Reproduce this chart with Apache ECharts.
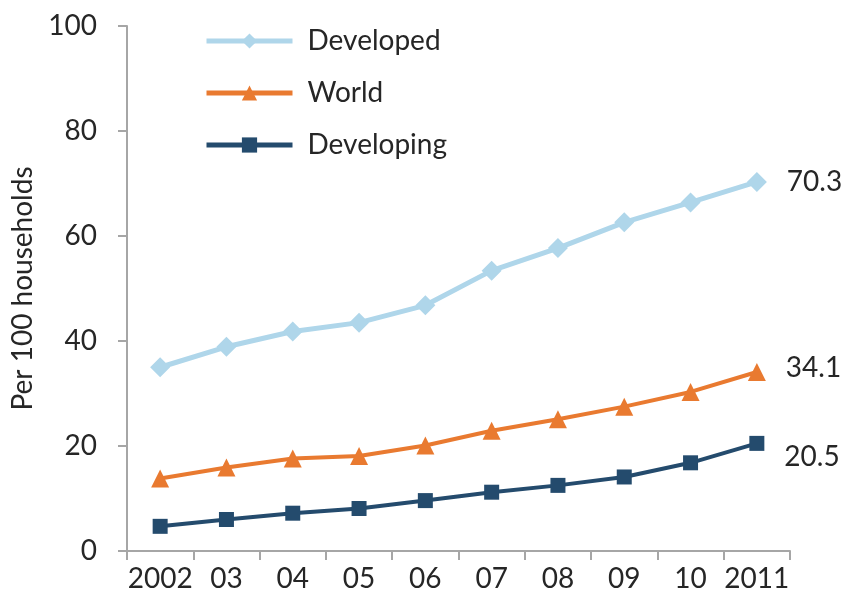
<!DOCTYPE html>
<html>
<head>
<meta charset="utf-8">
<script src="https://cdn.jsdelivr.net/npm/echarts@6/dist/echarts.min.js"></script>
<style>
  html, body { margin: 0; padding: 0; background: #ffffff; }
  #chart { width: 848px; height: 607px; }
</style>
</head>
<body>
<div id="chart"></div>
<script>
// Households per 100, by development group
const years = ['2002', '03', '04', '05', '06', '07', '08', '09', '10', '2011'];
const developed = [35.0, 38.9, 41.8, 43.5, 46.8, 53.4, 57.7, 62.6, 66.4, 70.3];
const world = [13.8, 15.9, 17.6, 18.1, 20.1, 22.9, 25.1, 27.5, 30.3, 34.1];
const developing = [4.7, 6.0, 7.2, 8.1, 9.6, 11.2, 12.5, 14.1, 16.8, 20.5];
const yTicks = { min: 0, max: 100, interval: 20 };

const FONT = 'Lato, "Open Sans", sans-serif';
const TEXT = '#262626';
const AXIS = '#A6A6A6';
const FS = 28;

const colors = { Developed: '#AFD6EA', World: '#E97A30', Developing: '#244B6D' };

// label only the final point of each line
function lastLabel(values, offset) {
  return values.map((v, i) => i === values.length - 1
    ? { value: v, label: { show: true, position: 'right', distance: 20, offset: offset,
        formatter: '{c}', color: TEXT, fontSize: FS, fontFamily: FONT } }
    : v);
}

function makeSeries(name, values, symbol, size, width, offset) {
  return {
    name: name,
    type: 'line',
    data: lastLabel(values, offset),
    symbol: symbol,
    symbolSize: size,
    showAllSymbol: true,
    lineStyle: { color: colors[name], width: width },
    itemStyle: { color: colors[name] },
    emphasis: { disabled: true },
    animation: false
  };
}

const chart = echarts.init(document.getElementById('chart'), null, { renderer: 'canvas' });
chart.setOption({
  backgroundColor: '#ffffff',
  textStyle: { fontFamily: FONT, color: TEXT },
  grid: { left: 127, right: 58, top: 26, bottom: 56, containLabel: false },
  legend: {
    orient: 'vertical',
    left: 199,
    top: 22,
    itemWidth: 86,
    itemHeight: 19,
    itemGap: 24,
    textStyle: { fontSize: FS, color: TEXT, fontFamily: FONT, padding: [0, 0, 0, 10] },
    data: [
      { name: 'Developed', lineStyle: { width: 5, color: colors.Developed } },
      { name: 'World', lineStyle: { width: 5, color: colors.World } },
      { name: 'Developing', lineStyle: { width: 5, color: colors.Developing } }
    ]
  },
  xAxis: {
    type: 'category',
    data: years,
    boundaryGap: true,
    axisLine: { lineStyle: { color: AXIS, width: 2 } },
    axisTick: { show: true, length: 9, alignWithLabel: false, lineStyle: { color: AXIS, width: 2 } },
    axisLabel: { fontSize: FS, color: TEXT, fontFamily: FONT, margin: 14, interval: 0 },
    splitLine: { show: false }
  },
  yAxis: {
    type: 'value',
    min: yTicks.min,
    max: yTicks.max,
    interval: yTicks.interval,
    name: 'Per 100 households',
    nameLocation: 'middle',
    nameGap: 79,
    nameTextStyle: { fontSize: FS, color: TEXT, fontFamily: FONT },
    axisLine: { show: true, lineStyle: { color: AXIS, width: 2 } },
    axisTick: { show: true, length: 9, lineStyle: { color: AXIS, width: 2 } },
    axisLabel: { fontSize: FS, color: TEXT, fontFamily: FONT, margin: 30 },
    splitLine: { show: false }
  },
  series: [
    makeSeries('Developed', developed, 'diamond', 20, 5, [0, 0]),
    makeSeries('World', world, 'triangle', 18, 4, [0, -4]),
    makeSeries('Developing', developing, 'rect', 15, 4, [0, 14])
  ]
});
</script>
</body>
</html>
